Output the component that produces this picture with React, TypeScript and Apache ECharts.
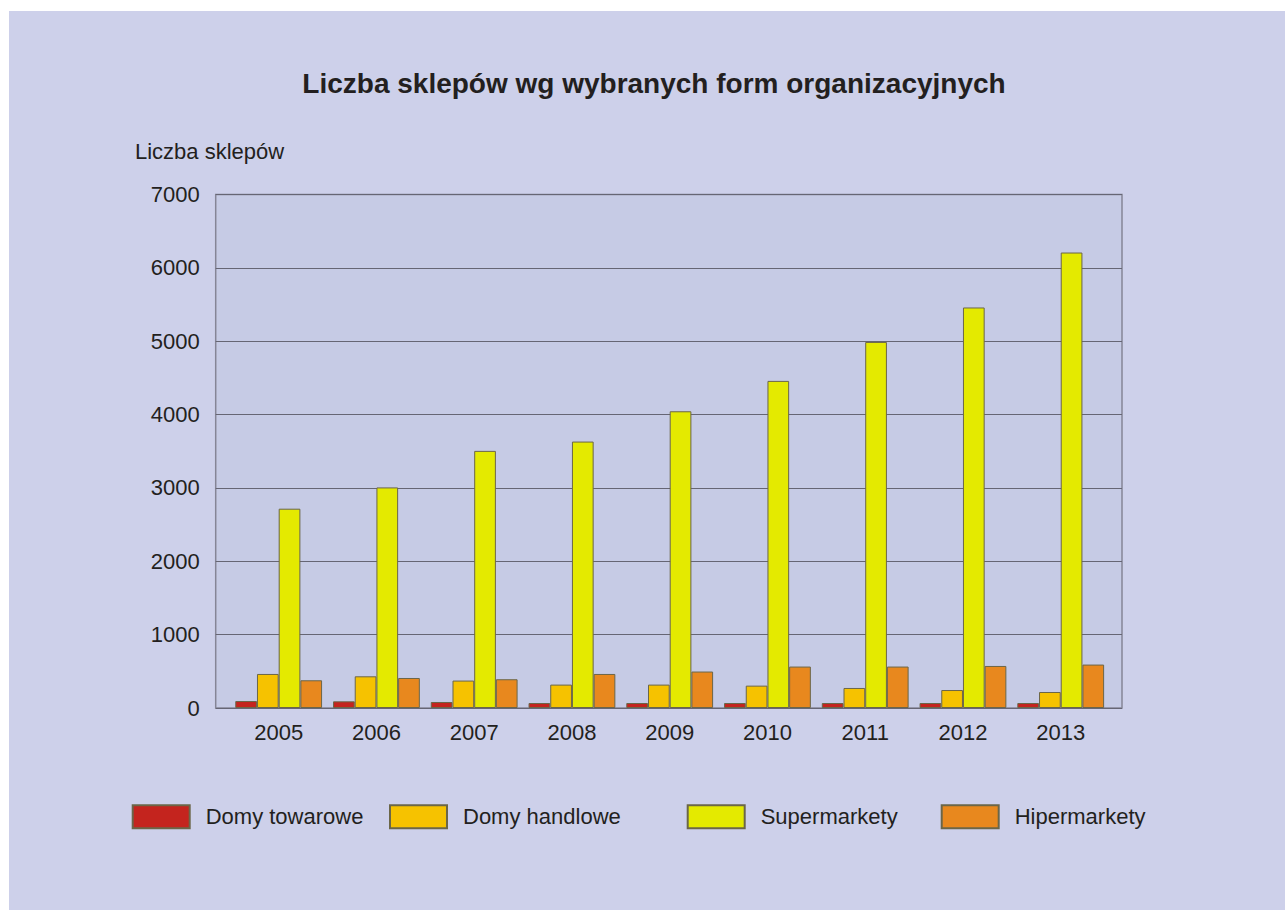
import React, { useEffect, useRef } from "react";
import * as echarts from "echarts";

const years = ["2005", "2006", "2007", "2008", "2009", "2010", "2011", "2012", "2013"];
const domyTowarowe = [95, 91, 82, 68, 68, 68, 68, 68, 68];
const domyHandlowe = [464, 432, 374, 319, 319, 305, 273, 245, 218];
const supermarkety = [2717, 3007, 3505, 3632, 4045, 4459, 4990, 5460, 6209];
const hipermarkety = [378, 409, 392, 464, 497, 565, 565, 573, 592];
const yTicks = [0, 1000, 2000, 3000, 4000, 5000, 6000, 7000];

const titleText = "Liczba sklepów wg wybranych form organizacyjnych";
const yName = "Liczba sklepów";

const FONT = "'Liberation Sans', Arial, Helvetica, sans-serif";
const TEXT = "#231f20";

export default function App() {
  const ref = useRef<HTMLDivElement>(null);
  useEffect(() => {
    document.body.style.margin = "0";
    const chart = echarts.init(ref.current!, null, { renderer: "svg" });
    const barBorder = { borderColor: "#6b6648", borderWidth: 1 };
    const mk = (name: string, data: number[], color: string) => ({
      name,
      type: "bar",
      xAxisIndex: 1,
      yAxisIndex: 1,
      data,
      barWidth: 21.7,
      barGap: "0%",
      itemStyle: { color, ...barBorder },
    });
    const legendBase = (name: string, left: number) => ({
      data: [name],
      left,
      top: 804.3 - 11,
      padding: 0,
      itemWidth: 57,
      itemHeight: 23,
      icon: "rect",
      selectedMode: false,
      textStyle: { fontSize: 22, color: TEXT, fontFamily: FONT, padding: [0, 0, 0, 11] },
    });
    chart.setOption({
      animation: false,
      backgroundColor: "#cdd0ea",
      textStyle: { fontFamily: FONT },
      graphic: [
        {
          type: "text",
          x: 645,
          y: 72,
          style: {
            text: titleText,
            font: `bold 28px ${FONT}`,
            fill: TEXT,
            textAlign: "center",
            textVerticalAlign: "middle",
          },
        },
        {
          type: "text",
          x: 126,
          y: 140,
          style: {
            text: yName,
            font: `22px ${FONT}`,
            fill: TEXT,
            textAlign: "left",
            textVerticalAlign: "middle",
          },
        },
      ],
      grid: [
        {
          left: 206.7,
          right: 163,
          top: 183.5,
          bottom: 202,
          show: true,
          backgroundColor: "#c6cbe5",
          borderColor: "#858596",
          borderWidth: 1.5,
        },
        {
          left: 220.8,
          right: 175.4,
          top: 183.5,
          bottom: 202,
        },
      ],
      xAxis: [
        { gridIndex: 0, type: "category", data: years, show: false },
        {
          gridIndex: 1,
          type: "category",
          data: years,
          axisLine: { show: false },
          axisTick: { show: false },
          axisLabel: { fontSize: 22, color: TEXT, margin: 13, fontFamily: FONT },
        },
      ],
      yAxis: [
        {
          gridIndex: 0,
          type: "value",
          min: yTicks[0],
          max: yTicks[yTicks.length - 1],
          interval: 1000,
          axisLine: { show: false },
          axisTick: { show: false },
          axisLabel: {
            fontSize: 22,
            color: TEXT,
            margin: 16,
            fontFamily: FONT,
            formatter: (v: number) => String(v),
          },
          splitLine: { lineStyle: { color: "#666674", width: 1.2 } },
        },
        {
          gridIndex: 1,
          type: "value",
          min: yTicks[0],
          max: yTicks[yTicks.length - 1],
          interval: 1000,
          show: false,
        },
      ],
      legend: [
        legendBase("Domy towarowe", 131.7 - 9),
        legendBase("Domy handlowe", 389 - 9),
        legendBase("Supermarkety", 686.7 - 9),
        legendBase("Hipermarkety", 940.7 - 9),
      ],
      series: [
        mk("Domy towarowe", domyTowarowe, "#c4241e"),
        mk("Domy handlowe", domyHandlowe, "#f6c200"),
        mk("Supermarkety", supermarkety, "#e4ea00"),
        mk("Hipermarkety", hipermarkety, "#e8881e"),
      ],
    });
    return () => chart.dispose();
  }, []);
  return (
    <div style={{ position: "relative", width: 1285, height: 910, background: "#ffffff" }}>
      <div ref={ref} style={{ position: "absolute", left: 9, top: 11, width: 1276, height: 899 }} />
    </div>
  );
}
